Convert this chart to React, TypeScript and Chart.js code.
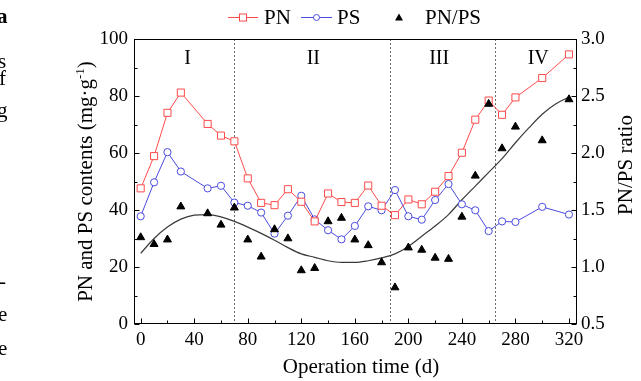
import React, { useEffect, useRef } from 'react';
import { Chart, registerables } from 'chart.js';

Chart.register(...registerables);

const FONT = '"Liberation Serif", "Times New Roman", serif';

// Operation time (d)
const days = [0, 10, 20, 30, 50, 60, 70, 80, 90, 100, 110, 120, 130, 140, 150, 160, 170, 180, 190, 200, 210, 220, 230, 240, 250, 260, 270, 280, 300, 320];
// PN content (mg/g)
const pnValues = [47.6, 58.9, 74.1, 81.2, 70.2, 66.1, 64.1, 51.1, 42.5, 41.7, 47.3, 42.9, 36.0, 45.8, 42.8, 42.5, 48.6, 41.5, 38.2, 43.7, 42.0, 46.4, 51.9, 60.1, 71.7, 78.4, 73.4, 79.5, 86.3, 94.6];
// PS content (mg/g)
const psValues = [37.8, 49.7, 60.3, 53.5, 47.6, 48.5, 42.6, 41.5, 39.1, 31.7, 38.0, 45.0, 36.7, 32.9, 29.7, 34.4, 41.3, 39.9, 47.0, 37.8, 36.6, 43.5, 49.1, 42.0, 39.9, 32.6, 36.0, 35.8, 41.1, 38.4];
// PN/PS ratio
const ratioValues = [1.26, 1.20, 1.24, 1.53, 1.47, 1.37, 1.52, 1.24, 1.09, 1.33, 1.25, 0.97, 0.99, 1.40, 1.43, 1.24, 1.19, 1.04, 0.82, 1.17, 1.15, 1.08, 1.07, 1.44, 1.80, 2.43, 2.04, 2.23, 2.11, 2.47];

// fitted trend curve of PN/PS
const fitDays = [0, 10, 20, 30, 40, 50, 60, 70, 80, 90, 100, 110, 120, 130, 140, 150, 160, 170, 180, 190, 200, 210, 220, 230, 240, 250, 260, 270, 280, 290, 300, 310, 320];
const fitValues = [1.12, 1.25, 1.35, 1.42, 1.455, 1.46, 1.44, 1.40, 1.35, 1.295, 1.235, 1.17, 1.115, 1.085, 1.055, 1.04, 1.04, 1.055, 1.08, 1.115, 1.18, 1.27, 1.36, 1.46, 1.59, 1.71, 1.83, 1.95, 2.09, 2.22, 2.34, 2.43, 2.49];

// phase boundaries and labels
const phaseBounds = [70, 186, 265];
const phaseNames = ['I', 'II', 'III', 'IV'];
const phaseLabelDays = [35, 129, 223, 297];

// axis ticks
const xTicks = [0, 40, 80, 120, 160, 200, 240, 280, 320];
const xMinorTicks = [20, 60, 100, 140, 180, 220, 260, 300];
const yTicks = [0, 20, 40, 60, 80, 100];
const yMinorTicks = [10, 30, 50, 70, 90];
const ratioTicks = [0.5, 1.0, 1.5, 2.0, 2.5, 3.0];
const ratioMinorTicks = [0.75, 1.25, 1.75, 2.25, 2.75];

const seriesNames = ['PN', 'PS', 'PN/PS'];
const xTitle = 'Operation time (d)';
const yTitleMain = 'PN and PS contents (mg\u00b7g';
const yTitleSup = '-1';
const yTitleEnd = ')';
const y1Title = 'PN/PS ratio';

const RED = '#ff4a4a';
const BLUE = '#4a4ae0';

const fragments = [
  { ch: 'a', top: 6, left: -3, bold: true },
  { ch: 's', top: 51, left: -2, bold: false },
  { ch: 'f', top: 68, left: -1, bold: false },
  { ch: 'g', top: 100, left: -3, bold: false },
  { ch: '-', top: 271, left: -1, bold: false },
  { ch: 'e', top: 304, left: -2, bold: false },
  { ch: 'e', top: 338, left: -2, bold: false },
];

const overlay = {
  id: 'overlay',
  beforeDatasetsDraw(chart: any) {
    const { ctx, chartArea: ca, scales } = chart;
    ctx.save();
    ctx.strokeStyle = '#6a6a6a';
    ctx.lineWidth = 1;
    ctx.setLineDash([2, 2]);
    phaseBounds.forEach((v) => {
      const x = Math.round(scales.x.getPixelForValue(v)) + 0.5;
      ctx.beginPath();
      ctx.moveTo(x, ca.top);
      ctx.lineTo(x, ca.bottom);
      ctx.stroke();
    });
    ctx.setLineDash([]);
    // phase labels
    ctx.fillStyle = '#000';
    ctx.font = `20px ${FONT}`;
    ctx.textAlign = 'center';
    ctx.textBaseline = 'alphabetic';
    phaseNames.forEach((n, i) => {
      ctx.fillText(n, scales.x.getPixelForValue(phaseLabelDays[i]), 64);
    });
    ctx.restore();
  },
  afterDraw(chart: any) {
    const { ctx, chartArea: ca, scales } = chart;
    ctx.save();
    // frame
    ctx.strokeStyle = '#000';
    ctx.lineWidth = 1;
    ctx.strokeRect(Math.round(ca.left) + 0.5, Math.round(ca.top) + 0.5, Math.round(ca.right - ca.left) - 1, Math.round(ca.bottom - ca.top) - 1);
    const L = Math.round(ca.left) + 0.5;
    const R = Math.round(ca.right) - 0.5;
    const B = Math.round(ca.bottom) - 0.5;
    const tick = (x1: number, y1: number, x2: number, y2: number) => {
      ctx.beginPath();
      ctx.moveTo(x1, y1);
      ctx.lineTo(x2, y2);
      ctx.stroke();
    };
    xTicks.forEach((v) => { const x = Math.round(scales.x.getPixelForValue(v)) + 0.5; tick(x, B, x, B - 5); });
    xMinorTicks.forEach((v) => { const x = Math.round(scales.x.getPixelForValue(v)) + 0.5; tick(x, B, x, B - 3); });
    yTicks.forEach((v) => { const y = Math.round(scales.y.getPixelForValue(v)) + 0.5; tick(L, y, L + 5, y); });
    yMinorTicks.forEach((v) => { const y = Math.round(scales.y.getPixelForValue(v)) + 0.5; tick(L, y, L + 3, y); });
    ratioTicks.forEach((v) => { const y = Math.round(scales.y1.getPixelForValue(v)) + 0.5; tick(R, y, R - 5, y); });
    ratioMinorTicks.forEach((v) => { const y = Math.round(scales.y1.getPixelForValue(v)) + 0.5; tick(R, y, R - 3, y); });

    // axis titles
    ctx.fillStyle = '#000';
    ctx.font = `21px ${FONT}`;
    ctx.textAlign = 'center';
    ctx.textBaseline = 'alphabetic';
    ctx.fillText(xTitle, 361, 373);

    // left title rotated
    ctx.save();
    ctx.translate(92, 181.5);
    ctx.rotate(-Math.PI / 2);
    ctx.textAlign = 'left';
    ctx.font = `21px ${FONT}`;
    const w1 = ctx.measureText(yTitleMain).width;
    const w3 = ctx.measureText(yTitleEnd).width;
    ctx.font = `13px ${FONT}`;
    const w2 = ctx.measureText(yTitleSup).width;
    let sx = -(w1 + w2 + w3) / 2;
    ctx.font = `21px ${FONT}`;
    ctx.fillText(yTitleMain, sx, 0);
    sx += w1;
    ctx.font = `13px ${FONT}`;
    ctx.fillText(yTitleSup, sx, -8);
    sx += w2;
    ctx.font = `21px ${FONT}`;
    ctx.fillText(yTitleEnd, sx, 0);
    ctx.restore();

    // right title rotated
    ctx.save();
    ctx.translate(632, 165);
    ctx.rotate(-Math.PI / 2);
    ctx.textAlign = 'center';
    ctx.font = `21px ${FONT}`;
    ctx.fillText(y1Title, 0, 0);
    ctx.restore();

    // legend
    const ly = 17;
    ctx.textAlign = 'left';
    ctx.font = `21px ${FONT}`;
    ctx.lineWidth = 1;
    // PN
    ctx.strokeStyle = RED;
    tick(228, ly + 0.5, 258, ly + 0.5);
    ctx.fillStyle = '#fff';
    ctx.fillRect(239.5, ly - 3, 7, 7);
    ctx.strokeRect(239.5, ly - 3, 7, 7);
    ctx.fillStyle = '#000';
    ctx.fillText(seriesNames[0], 264, 24);
    // PS
    ctx.strokeStyle = BLUE;
    tick(301, ly + 0.5, 332, ly + 0.5);
    ctx.fillStyle = '#fff';
    ctx.beginPath();
    ctx.arc(316.5, ly + 0.5, 3, 0, Math.PI * 2);
    ctx.fill();
    ctx.stroke();
    ctx.fillStyle = '#000';
    ctx.fillText(seriesNames[1], 337, 24);
    // PN/PS
    ctx.beginPath();
    ctx.moveTo(399, ly - 3.5);
    ctx.lineTo(403, ly + 3.5);
    ctx.lineTo(395, ly + 3.5);
    ctx.closePath();
    ctx.fill();
    ctx.fillText(seriesNames[2], 425, 24);
    ctx.restore();
  },
};

export default function App() {
  const ref = useRef<HTMLCanvasElement>(null);
  useEffect(() => {
    const tickFont = { family: FONT, size: 19 };
    const chart = new Chart(ref.current as HTMLCanvasElement, {
      type: 'line',
      data: {
        datasets: [
          {
            label: seriesNames[0],
            data: days.map((d, i) => ({ x: d, y: pnValues[i] })),
            yAxisID: 'y',
            borderColor: RED,
            backgroundColor: '#fff',
            borderWidth: 1,
            pointStyle: 'rect',
            pointRadius: 5,
            pointBorderWidth: 1,
            pointBorderColor: RED,
            pointBackgroundColor: '#fff',
            tension: 0,
            order: 2,
          },
          {
            label: seriesNames[1],
            data: days.map((d, i) => ({ x: d, y: psValues[i] })),
            yAxisID: 'y',
            borderColor: BLUE,
            backgroundColor: '#fff',
            borderWidth: 1,
            pointStyle: 'circle',
            pointRadius: 3.6,
            pointBorderWidth: 1,
            pointBorderColor: BLUE,
            pointBackgroundColor: '#fff',
            tension: 0,
            order: 3,
          },
          {
            label: seriesNames[2],
            data: days.map((d, i) => ({ x: d, y: ratioValues[i] })),
            yAxisID: 'y1',
            showLine: false,
            borderColor: '#000',
            backgroundColor: '#000',
            pointStyle: 'triangle',
            pointRadius: 4.6,
            pointBorderWidth: 1,
            pointBackgroundColor: '#000',
            pointBorderColor: '#000',
            order: 1,
          },
          {
            label: 'fit',
            data: fitDays.map((d, i) => ({ x: d, y: fitValues[i] })),
            yAxisID: 'y1',
            borderColor: '#3a3a3a',
            borderWidth: 1.2,
            pointRadius: 0,
            cubicInterpolationMode: 'monotone',
            order: 4,
          },
        ],
      },
      options: {
        responsive: false,
        animation: false,
        events: [],
        layout: { padding: { top: 39, left: 0, right: 0, bottom: 0 } },
        plugins: { legend: { display: false }, tooltip: { enabled: false } },
        scales: {
          x: {
            type: 'linear',
            min: -5,
            max: 326,
            grid: { display: false, drawTicks: false },
            border: { display: false },
            afterBuildTicks: (s: any) => { s.ticks = xTicks.map((v) => ({ value: v })); },
            afterFit: (s: any) => { s.height = 57; },
            ticks: { font: tickFont, color: '#000', padding: 5, maxRotation: 0, autoSkip: false },
          },
          y: {
            position: 'left',
            min: 0,
            max: 100,
            grid: { display: false, drawTicks: false },
            border: { display: false },
            afterBuildTicks: (s: any) => { s.ticks = yTicks.map((v) => ({ value: v })); },
            afterFit: (s: any) => { s.width = 134; },
            ticks: { font: tickFont, color: '#000', padding: 6 },
          },
          y1: {
            position: 'right',
            min: 0.5,
            max: 3.0,
            grid: { display: false, drawTicks: false },
            border: { display: false },
            afterBuildTicks: (s: any) => { s.ticks = ratioTicks.map((v) => ({ value: v })); },
            afterFit: (s: any) => { s.width = 64; },
            ticks: { font: tickFont, color: '#000', padding: 4, callback: (v: any) => Number(v).toFixed(1) },
          },
        },
      } as any,
      plugins: [overlay],
    });
    return () => chart.destroy();
  }, []);

  return (
    <div style={{ position: 'fixed', left: 0, top: 0, width: 641, height: 381, background: '#fff', overflow: 'hidden' }}>
      <canvas ref={ref} width={641} height={381} style={{ display: 'block', width: 641, height: 381 }} />
      {fragments.map((f, i) => (
        <span
          key={i}
          style={{
            position: 'absolute',
            top: f.top,
            left: f.left,
            fontFamily: FONT,
            fontSize: 21,
            lineHeight: '21px',
            fontWeight: f.bold ? 'bold' : 'normal',
            color: '#000',
          }}
        >
          {f.ch}
        </span>
      ))}
    </div>
  );
}
